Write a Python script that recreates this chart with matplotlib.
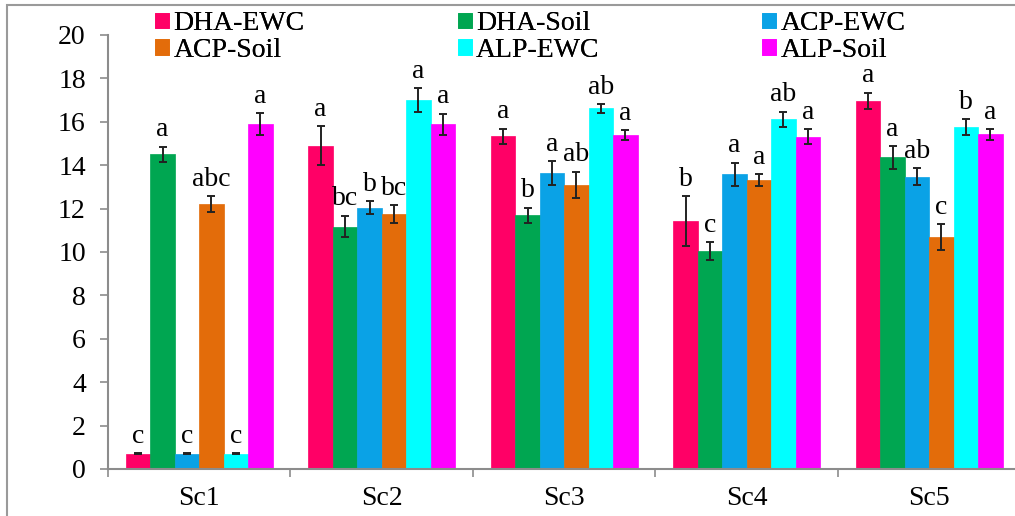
import numpy as np
import matplotlib
matplotlib.use("Agg")
import matplotlib.pyplot as plt
from matplotlib.patches import Rectangle

plt.rcParams.update({
    "font.family": ["Liberation Serif", "DejaVu Serif"],
    "font.size": 20,
})

# ── Data ─────────────────────────────────────────────────────────────────────
scenarios = ["Sc1", "Sc2", "Sc3", "Sc4", "Sc5"]
series = ["DHA-EWC", "DHA-Soil", "ACP-EWC", "ACP-Soil", "ALP-EWC", "ALP-Soil"]

dha_ewc = [0.70, 14.90, 15.33, 11.43, 16.96]
dha_soil = [14.50, 11.17, 11.70, 10.03, 14.36]
acp_ewc = [0.70, 12.05, 13.65, 13.58, 13.47]
acp_soil = [12.20, 11.75, 13.09, 13.32, 10.68]
alp_ewc = [0.70, 17.00, 16.62, 16.11, 15.75]
alp_soil = [15.90, 15.88, 15.39, 15.31, 15.42]

dha_ewc_err = [0.03, 0.90, 0.35, 1.15, 0.38]
dha_soil_err = [0.35, 0.50, 0.35, 0.41, 0.52]
acp_ewc_err = [0.03, 0.28, 0.55, 0.54, 0.38]
acp_soil_err = [0.38, 0.40, 0.61, 0.28, 0.61]
alp_ewc_err = [0.03, 0.54, 0.20, 0.35, 0.38]
alp_soil_err = [0.50, 0.50, 0.23, 0.34, 0.25]

dha_ewc_lbl = ["c", "a", "a", "b", "a"]
dha_soil_lbl = ["a", "bc", "b", "c", "a"]
acp_ewc_lbl = ["c", "b", "a", "a", "ab"]
acp_soil_lbl = ["abc", "bc", "ab", "a", "c"]
alp_ewc_lbl = ["c", "a", "ab", "ab", "b"]
alp_soil_lbl = ["a", "a", "a", "a", "a"]

values = [dha_ewc, dha_soil, acp_ewc, acp_soil, alp_ewc, alp_soil]
errors = [dha_ewc_err, dha_soil_err, acp_ewc_err, acp_soil_err, alp_ewc_err, alp_soil_err]
letters = [dha_ewc_lbl, dha_soil_lbl, acp_ewc_lbl, acp_soil_lbl, alp_ewc_lbl, alp_soil_lbl]

COLORS = ["#FF0066", "#00A651", "#0AA2E6", "#E36C0A", "#00FFFF", "#FF00FF"]
AXIS_GRAY = "#8c8c8c"

# ── Figure ───────────────────────────────────────────────────────────────────
fig = plt.figure(figsize=(10.15, 5.16), dpi=100)
ax = fig.add_axes([0.1064, 0.0911, 0.899, 0.8411])

# outer frame (cut off on right/bottom like the reference)
fig.patches.append(Rectangle((0.007, -0.05), 1.2, 1.04, transform=fig.transFigure,
                             fill=False, edgecolor="#9a9a9a", linewidth=1.5))

x = np.arange(len(scenarios))
bw = 0.134
handles = []
for i, (name, vals, errs, lbls) in enumerate(zip(series, values, errors, letters)):
    pos = x + (i - 2.5) * bw
    b = ax.bar(pos, vals, width=bw, color=COLORS[i], edgecolor=COLORS[i],
               linewidth=0.5, label=name)
    ax.errorbar(pos, vals, yerr=errs, fmt="none", ecolor="#222222",
                elinewidth=1.4, capsize=3.2, capthick=1.4)
    handles.append(b)
    for xp, v, e, t in zip(pos, vals, errs, lbls):
        ax.text(xp, v + e + 0.2, t, ha="center", va="bottom", fontsize=20)

ax.set_xlim(-0.5, 4.5)
ax.set_ylim(0, 20)
ax.set_yticks(np.arange(0, 21, 2))

ax.set_xticks(x)
ax.set_xticklabels(scenarios)
ax.set_xticks(np.arange(-0.5, 5.0, 1.0), minor=True)
ax.tick_params(axis="x", which="major", length=0, pad=12)
ax.tick_params(axis="x", which="minor", length=6, color=AXIS_GRAY, width=1.2)
ax.tick_params(axis="y", length=6, color=AXIS_GRAY, width=1.2, pad=10)

for side in ["top", "right"]:
    ax.spines[side].set_visible(False)
for side in ["left", "bottom"]:
    ax.spines[side].set_color(AXIS_GRAY)
    ax.spines[side].set_linewidth(1.5)

# legend: three equally spaced columns, filled row-wise
columns = [[0, 3], [1, 4], [2, 5]]
col_x = [0.153, 0.451, 0.751]
for cx, idx in zip(col_x, columns):
    leg = fig.legend([handles[k] for k in idx], [series[k] for k in idx],
                     loc="upper left", bbox_to_anchor=(cx, 0.978),
                     frameon=False, fontsize=20, handlelength=0.5,
                     handleheight=0.5, handletextpad=0.15, labelspacing=0.05,
                     borderpad=0, borderaxespad=0)
    fig.add_artist(leg)

fig.savefig("out.png", dpi=100)
